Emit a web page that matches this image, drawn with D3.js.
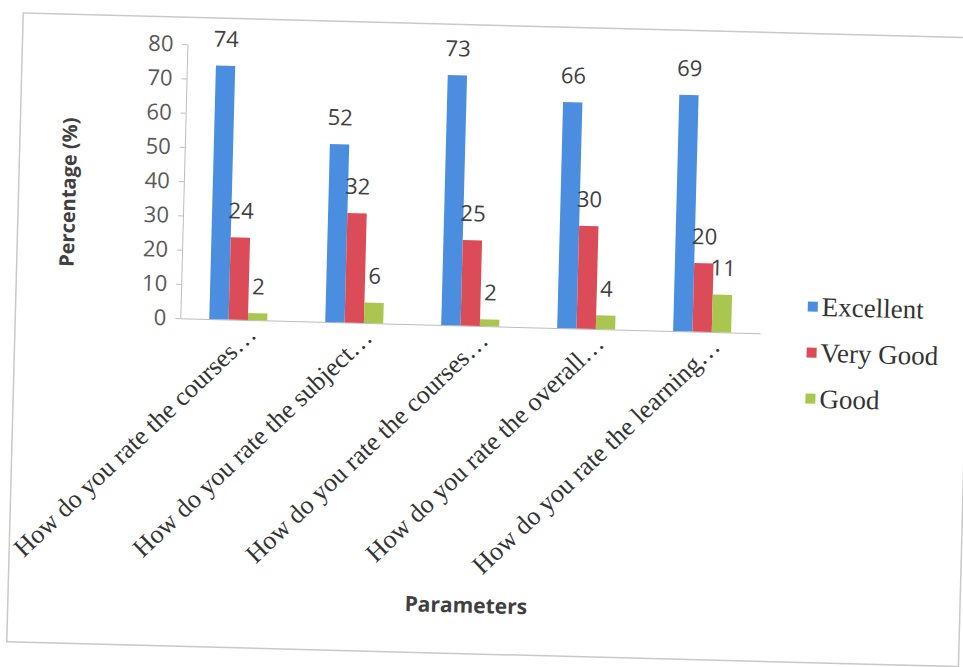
<!DOCTYPE html>
<html>
<head>
<meta charset="utf-8">
<script src="https://cdn.jsdelivr.net/npm/d3@7"></script>
<style>
  body { margin: 0; background: #fff; }
  .tick text { font-family: "Open Sans", sans-serif; }
</style>
</head>
<body>
<script>
// chart values
var categories = ["How do you rate the courses…", "How do you rate the subject…", "How do you rate the courses…", "How do you rate the overall…", "How do you rate the learning…"];
var seriesNames = ["Excellent", "Very Good", "Good"];
var excellent = [74, 52, 73, 66, 69];
var veryGood = [24, 32, 25, 30, 20];
var good = [2, 6, 2, 4, 11];
var yTicks = [0, 10, 20, 30, 40, 50, 60, 70, 80];

var seriesValues = [excellent, veryGood, good];
var colors = ["#4b8ee0", "#dc4c58", "#a9c64f"];

var W = 963, H = 667;
var margin = {top: 52, right: 203, bottom: 341, left: 180},
    width = W - margin.left - margin.right,
    height = H - margin.top - margin.bottom;

var svg = d3.select("body").append("svg")
    .attr("width", W)
    .attr("height", H);

// the scan is tilted a little clockwise
var page = svg.append("g").attr("transform", "rotate(1.5,480,333)");

page.append("rect")
    .attr("x", 15).attr("y", 25)
    .attr("width", 952).attr("height", 629)
    .attr("fill", "#fff")
    .attr("stroke", "#c9c9c9")
    .attr("stroke-width", 1.5);

var g = page.append("g")
    .attr("transform", "translate(" + margin.left + "," + margin.top + ")");

var x0 = d3.scaleBand().domain(d3.range(categories.length))
    .range([0, width]).paddingInner(0.5).paddingOuter(0.25);
var x1 = d3.scaleBand().domain(d3.range(seriesNames.length))
    .range([0, x0.bandwidth()]);
var y = d3.scaleLinear().domain([0, 80]).range([height, 0]);

// y axis
var yAxis = g.append("g")
    .call(d3.axisLeft(y).tickValues(yTicks).tickSize(5).tickSizeOuter(0).tickPadding(9));
yAxis.select(".domain").attr("stroke", "#bdbdbd");
yAxis.selectAll(".tick line").attr("stroke", "#bdbdbd");
yAxis.selectAll(".tick text")
    .attr("fill", "#595959")
    .style("font-size", "22px");

// baseline
var xAxis = g.append("g")
    .attr("transform", "translate(0," + height + ")")
    .call(d3.axisBottom(x0).tickSize(0).tickFormat(""));
xAxis.select(".domain").attr("stroke", "#bdbdbd");

// category labels, rotated
g.selectAll(".cat")
    .data(categories)
  .enter().append("text")
    .attr("class", "cat")
    .attr("transform", function(d, i) {
      return "translate(" + (x0(i) + x0.bandwidth() / 2 + 20) + "," + (height + 16) + ") rotate(-45)";
    })
    .attr("text-anchor", "end")
    .attr("font-family", "'Liberation Serif', 'Times New Roman', serif")
    .attr("font-size", "26px")
    .attr("fill", "#333")
    .text(function(d) { return d; });

// bars
var groups = g.selectAll(".grp")
    .data(categories)
  .enter().append("g")
    .attr("class", "grp")
    .attr("transform", function(d, i) { return "translate(" + x0(i) + ",0)"; });

groups.selectAll("rect")
    .data(function(d, i) { return seriesValues.map(function(s, k) { return {k: k, v: s[i]}; }); })
  .enter().append("rect")
    .attr("x", function(d) { return x1(d.k); })
    .attr("y", function(d) { return y(d.v); })
    .attr("width", x1.bandwidth())
    .attr("height", function(d) { return height - y(d.v); })
    .attr("fill", function(d) { return colors[d.k]; });

groups.selectAll(".lbl")
    .data(function(d, i) { return seriesValues.map(function(s, k) { return {k: k, v: s[i]}; }); })
  .enter().append("text")
    .attr("class", "lbl")
    .attr("x", function(d) { return x1(d.k) + x1.bandwidth() / 2; })
    .attr("y", function(d) { return y(d.v) - 19; })
    .attr("text-anchor", "middle")
    .attr("font-family", "'Open Sans', sans-serif")
    .attr("font-size", "22px")
    .attr("fill", "#404040")
    .text(function(d) { return d.v; });

// axis titles
g.append("text")
    .attr("transform", "translate(-108," + (height / 2 + 14) + ") rotate(-90)")
    .attr("text-anchor", "middle")
    .attr("font-family", "'Open Sans', sans-serif")
    .attr("font-weight", "bold")
    .attr("font-size", "20px")
    .attr("fill", "#404040")
    .text("Percentage (%)");

g.append("text")
    .attr("x", 293).attr("y", 561)
    .attr("text-anchor", "middle")
    .attr("font-family", "'Open Sans', sans-serif")
    .attr("font-weight", "bold")
    .attr("font-size", "21px")
    .attr("fill", "#404040")
    .text("Parameters");

// legend
var legend = page.append("g").attr("transform", "translate(807,298)");
var item = legend.selectAll(".leg")
    .data(seriesNames)
  .enter().append("g")
    .attr("class", "leg")
    .attr("transform", function(d, i) { return "translate(0," + (i * 46) + ")"; });

item.append("rect")
    .attr("x", 0).attr("y", -5)
    .attr("width", 10).attr("height", 10)
    .attr("fill", function(d, i) { return colors[i]; });

item.append("text")
    .attr("x", 14).attr("y", 9)
    .attr("font-family", "'Liberation Serif', 'Times New Roman', serif")
    .attr("font-size", "27px")
    .attr("fill", "#333")
    .text(function(d) { return d; });
</script>
</body>
</html>
